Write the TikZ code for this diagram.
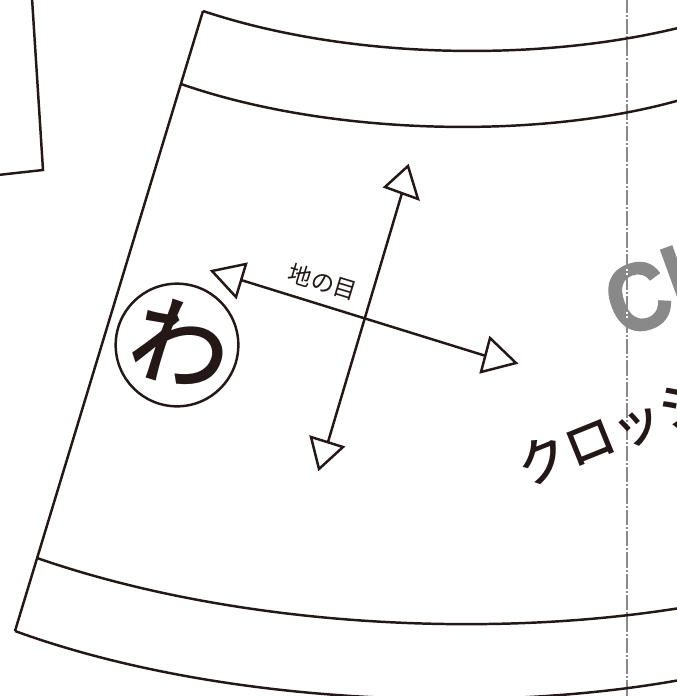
\documentclass[tikz,border=0pt]{standalone}
\usepackage{fontspec}
\setmainfont{Liberation Sans}
\newfontfamily\heavyf{Liberation Sans}[BoldFeatures={FakeBold=1.5}]
\newfontfamily\cjk{Noto Sans CJK JP}
\newfontfamily\cjkm{Noto Sans CJK JP Medium}
\definecolor{ink}{HTML}{231815}
\definecolor{greyink}{HTML}{898989}
\tikzset{
  outline/.style={draw=ink,line width=1.85pt,line join=miter},
  foldline/.style={draw=greyink,line width=1.9pt,dash pattern=on 11.5pt off 1.5pt on 1.5pt off 1.5pt},
  foldgaps/.style={draw=white,line width=1.9pt,dash pattern=on 1.5pt off 1.5pt on 1.5pt off 11.5pt,dash phase=4.5pt},
  tiptri/.style={draw=ink,line width=1.85pt,fill=white,line join=miter}
}
\begin{document}
\begin{tikzpicture}[x=0.75pt,y=-0.75pt]
\useasboundingbox (0,0) rectangle (677,696);
\clip (0,0) rectangle (677,696);
\fill[white] (0,0) rectangle (677,696);
% fold line
\draw[foldline] (627,-2.33) -- (627,696);
% grey title
\node[text=greyink,font=\heavyf\bfseries\fontsize{72pt}{72pt}\selectfont,rotate=20,xscale=.9,anchor=base west,inner sep=0pt] (title) at (620,339) {Cl};
\draw[foldgaps] (627,-2.33) -- (627,696);
\node[text=ink,font=\cjkm\fontsize{38pt}{38pt}\selectfont,rotate=22,anchor=base west,inner sep=0pt] (subtitle) at (526,488) {クロッシ};
% neighbouring piece
\draw[outline] (32,-2) -- (43,170) -- (-2,175);
% pattern piece
\draw[outline] (203,11) .. controls (350,60) and (540,62) .. (680,27.5);
\draw[outline] (181,84) .. controls (330,136) and (540,140) .. (680,100);
\draw[outline] (37,558) .. controls (230,625) and (480,640) .. (680,608);
\draw[outline] (15,631) .. controls (210,702) and (480,716) .. (680,680);
\draw[outline] (203,11) -- (15,631);
% grain arrows
\draw[outline] (402,193) -- (328,442);
\draw[outline] (241,280) -- (486,356);
\draw[tiptri] (408,166) -- (385,187) -- (418,199) -- cycle;
\draw[tiptri] (319,469) -- (311,437) -- (343,447) -- cycle;
\draw[tiptri] (212,271) -- (246,264) -- (236,297) -- cycle;
\draw[tiptri] (516,363) -- (490,338) -- (481,372) -- cycle;
\node[text=ink,font=\cjk\fontsize{17.5pt}{17.5pt}\selectfont,rotate=-17,inner sep=0pt] (grain) at (323,282) {地の目};
% fold mark
\node[draw=ink,line width=1.85pt,circle,minimum size=92pt,inner sep=0pt] (mark) at (177,345) {};
\node[text=ink,font=\cjkm\fontsize{74pt}{74pt}\selectfont,rotate=-17,inner sep=0pt] (markglyph) at (182,345) {わ};
\end{tikzpicture}
\end{document}
